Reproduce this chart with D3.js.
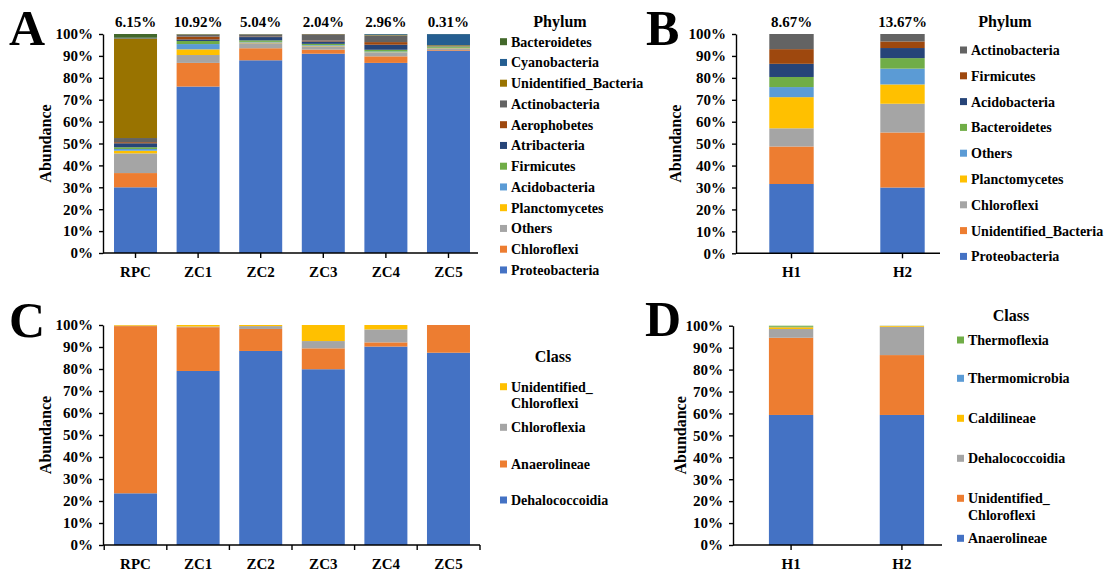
<!DOCTYPE html>
<html>
<head>
<meta charset="utf-8">
<script src="https://cdn.jsdelivr.net/npm/d3@7"></script>
<style>
body{margin:0;background:#fff;}
text{font-family:"Liberation Serif","Times New Roman",serif;font-weight:bold;fill:#000;}
</style>
</head>
<body>
<script>
// ---- Panel A: phylum, sediment samples ----
var sitesA = ["RPC","ZC1","ZC2","ZC3","ZC4","ZC5"];
var topLabelsA = ["6.15%","10.92%","5.04%","2.04%","2.96%","0.31%"];
// stacked bottom -> top
var phylaA = ["Proteobacteria","Chloroflexi","Others","Planctomycetes","Acidobacteria","Firmicutes",
              "Atribacteria","Aerophobetes","Actinobacteria","Unidentified_Bacteria","Cyanobacteria","Bacteroidetes"];
var valuesA = [
  [30, 76, 88, 91, 86.8, 92.4],
  [6.5, 10.8, 5.5, 1.9, 3, 0.3],
  [9, 3.6, 2.3, 1.5, 1.6, 0.8],
  [1.2, 2.6, 0.3, 0.2, 0.2, 0.1],
  [0.8, 2.4, 0.3, 0.3, 0.4, 0.1],
  [0.8, 1.4, 0.7, 0.6, 0.8, 0.5],
  [1.8, 0.7, 1.5, 1.1, 2.3, 0.1],
  [0.5, 1.3, 0.2, 0.4, 1.2, 0.05],
  [1.9, 0.8, 1, 2.9, 3, 0.1],
  [45.5, 0.2, 0.1, 0.1, 0.2, 0.4],
  [0.3, 0.1, 0.05, 0, 0.4, 5.1],
  [1.7, 0.1, 0.05, 0, 0.1, 0.05]
];
var colorsA = ["#4472C4","#ED7D31","#A5A5A5","#FFC000","#5B9BD5","#70AD47",
               "#264478","#9E480E","#636363","#997300","#255E91","#43682B"];

// ---- Panel B: phylum, H samples ----
var sitesB = ["H1","H2"];
var topLabelsB = ["8.67%","13.67%"];
var phylaB = ["Proteobacteria","Unidentified_Bacteria","Chloroflexi","Planctomycetes","Others",
              "Bacteroidetes","Acidobacteria","Firmicutes","Actinobacteria"];
var valuesB = [
  [31.6, 30],
  [17.1, 25.1],
  [8.3, 13.1],
  [14.2, 8.8],
  [4.6, 7.2],
  [4.6, 4.8],
  [6, 4.6],
  [6.7, 3],
  [6.9, 3.4]
];
var colorsB = ["#4472C4","#ED7D31","#A5A5A5","#FFC000","#5B9BD5","#70AD47","#264478","#9E480E","#636363"];

// ---- Panel C: class (Chloroflexi), sediment samples ----
var sitesC = ["RPC","ZC1","ZC2","ZC3","ZC4","ZC5"];
var classesC = ["Dehalococcoidia","Anaerolineae","Chloroflexia","Unidentified_\nChloroflexi"];
var valuesC = [
  [23.5, 79.1, 88.2, 79.9, 90.2, 87.4],
  [76, 19.9, 10, 9.5, 1.9, 12.6],
  [0.2, 0.3, 1.3, 3.3, 5.9, 0],
  [0.3, 0.7, 0.5, 7.3, 2, 0]
];
var colorsC = ["#4472C4","#ED7D31","#A5A5A5","#FFC000"];

// ---- Panel D: class (Chloroflexi), H samples ----
var sitesD = ["H1","H2"];
var classesD = ["Anaerolineae","Unidentified_\nChloroflexi","Dehalococcoidia","Caldilineae","Thermomicrobia","Thermoflexia"];
var valuesD = [
  [59.3, 59.3],
  [35.2, 27.3],
  [4, 12.9],
  [0.8, 0.4],
  [0.2, 0.05],
  [0.5, 0.05]
];
var colorsD = ["#4472C4","#ED7D31","#A5A5A5","#FFC000","#5B9BD5","#70AD47"];

var svg = d3.select("body").append("svg").attr("width",1118).attr("height",574);

function drawPanel(cfg){
  var g = svg.append("g");
  var x = d3.scaleBand().domain(cfg.cats).range([cfg.x0, cfg.x1])
            .paddingInner(cfg.padIn).paddingOuter(cfg.padOut);
  var y = d3.scaleLinear().domain([0,100]).range([cfg.yBot, cfg.yTop]);

  // build table for the stack
  var rows = cfg.cats.map(function(c,i){
    var o = {cat:c};
    cfg.series.forEach(function(s,k){ o[s] = cfg.values[k][i]; });
    return o;
  });
  var stacked = d3.stack().keys(cfg.series)(rows);

  g.selectAll("g.layer").data(stacked).enter().append("g")
    .attr("class","layer")
    .attr("fill",function(d,i){ return cfg.colors[i]; })
    .selectAll("rect").data(function(d){ return d; }).enter().append("rect")
    .attr("x",function(d){ return x(d.data.cat); })
    .attr("width",x.bandwidth())
    .attr("y",function(d){ return y(d[1]); })
    .attr("height",function(d){ return Math.max(0, y(d[0]) - y(d[1])); });

  // y axis
  var yAxis = d3.axisLeft(y).tickValues(d3.range(0,101,10))
                .tickFormat(function(d){ return d + "%"; })
                .tickSize(4).tickSizeOuter(0).tickPadding(6);
  var ya = g.append("g").attr("transform","translate(" + cfg.x0 + ",0)").call(yAxis);
  ya.selectAll("text").style("font-size","15px");

  // x axis
  var xAxis = d3.axisBottom(x).tickSize(cfg.centerTicks ? 5 : 0).tickSizeOuter(0).tickPadding(cfg.centerTicks ? 8 : 13);
  var xa = g.append("g").attr("transform","translate(0," + cfg.yBot + ")").call(xAxis);
  xa.select(".domain").attr("d","M" + cfg.x0 + ",0H" + cfg.axisEnd);
  xa.selectAll("text").style("font-size","15px");
  if(!cfg.centerTicks){
    var half = x.step() * x.paddingInner() / 2;
    var bounds = cfg.cats.map(function(c){ return x(c) - half; });
    bounds.push(cfg.axisEnd);
    xa.selectAll("line.bound").data(bounds).enter().append("line")
      .attr("class","bound").attr("x1",function(d){return d;}).attr("x2",function(d){return d;})
      .attr("y1",0).attr("y2",5).attr("stroke","#000");
  }
  [ya, xa].forEach(function(a){
    a.selectAll("path,line").attr("stroke","#000").attr("stroke-width",1.4);
  });

  // labels above bars
  if(cfg.topLabels){
    g.selectAll("text.top").data(cfg.cats).enter().append("text")
      .attr("class","top")
      .attr("x",function(c){ return x(c) + x.bandwidth()/2; })
      .attr("y",cfg.yTop - 7)
      .attr("text-anchor","middle").style("font-size","15px")
      .text(function(c,i){ return cfg.topLabels[i]; });
  }

  // axis title
  g.append("text")
    .attr("transform","translate(" + cfg.yLabelX + "," + ((cfg.yTop + cfg.yBot)/2) + ") rotate(-90)")
    .attr("text-anchor","middle").style("font-size","16px").text("Abundance");

  // panel letter
  g.append("text").attr("x",cfg.letterX).attr("y",cfg.letterY)
    .style("font-size","50px").text(cfg.letter);

  // legend (top -> bottom is reverse of stack)
  var leg = g.append("g");
  leg.append("text").attr("x",cfg.legTitleX).attr("y",cfg.legTitleY)
    .attr("text-anchor","middle").style("font-size","16px").text(cfg.legTitle);
  var items = cfg.series.map(function(s,i){ return {name:s, color:cfg.colors[i]}; }).reverse();
  items.forEach(function(it,i){
    var yy = cfg.legY[i];
    leg.append("rect").attr("x",cfg.legX).attr("y",yy - 3.5).attr("width",7).attr("height",7).attr("fill",it.color);
    var t = leg.append("text").attr("x",cfg.legX + 11).attr("y",yy).attr("dy","0.35em").style("font-size","14px");
    it.name.split("\n").forEach(function(line,j){
      t.append("tspan").attr("x",cfg.legX + 11).attr("dy", j === 0 ? "0.35em" : "1.2em").text(line);
    });
  });
}

drawPanel({cats:sitesA, series:phylaA, values:valuesA, colors:colorsA, topLabels:topLabelsA,
  x0:103, x1:481, axisEnd:478, padIn:0.313, padOut:0.176, yBot:253, yTop:34, centerTicks:true,
  yLabelX:51, letter:"A", letterX:9, letterY:45,
  legTitle:"Phylum", legTitleX:560, legTitleY:27, legX:500,
  legY:d3.range(12).map(function(i){ return 41.7 + i*20.75; })});

drawPanel({cats:sitesB, series:phylaB, values:valuesB, colors:colorsB, topLabels:topLabelsB,
  x0:736, x1:958, axisEnd:940, padIn:0.6, padOut:0.3, yBot:253.3, yTop:34, centerTicks:true,
  yLabelX:681, letter:"B", letterX:646, letterY:45,
  legTitle:"Phylum", legTitleX:1005, legTitleY:27, legX:960,
  legY:d3.range(9).map(function(i){ return 50 + i*25.8; })});

drawPanel({cats:sitesC, series:classesC, values:valuesC, colors:colorsC, topLabels:null,
  x0:103, x1:481, axisEnd:480, padIn:0.313, padOut:0.176, yBot:545, yTop:325, centerTicks:false,
  yLabelX:51, letter:"C", letterX:9, letterY:337,
  legTitle:"Class", legTitleX:553, legTitleY:362, legX:500,
  legY:[386.7, 427.3, 464, 500]});

drawPanel({cats:sitesD, series:classesD, values:valuesD, colors:colorsD, topLabels:null,
  x0:733, x1:960, axisEnd:942, padIn:0.6, padOut:0.324, yBot:545, yTop:325.7, centerTicks:true,
  yLabelX:686, letter:"D", letterX:645, letterY:336,
  legTitle:"Class", legTitleX:1011, legTitleY:321, legX:957,
  legY:[340, 378.3, 418.3, 458.3, 498.3, 538.3]});
</script>
</body>
</html>
